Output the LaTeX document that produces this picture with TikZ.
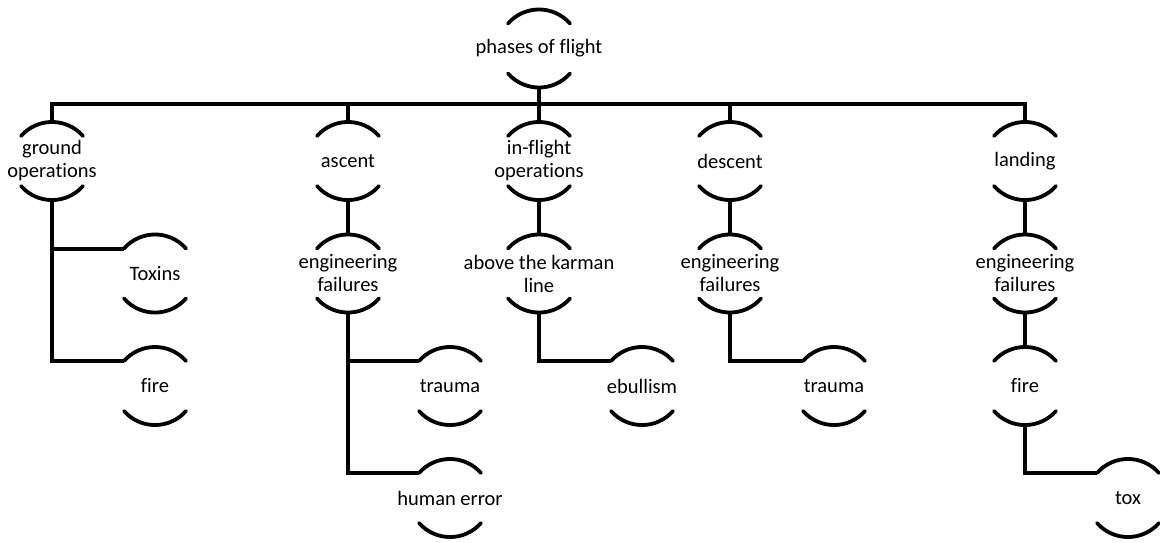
\documentclass[tikz,border=0pt]{standalone}
\usepackage{fontspec}
\setmainfont[Ligatures=NoCommon]{Carlito}
\tikzset{
  lbl/.style={align=center, inner sep=0pt, font=\fontsize{20.5}{23}\selectfont},
  arcline/.style={line width=3.8pt, line cap=round},
  link/.style={line width=4pt, line join=miter},
}
% A label framed by a cap arc above and a cup arc below,
% with named points for the connectors.
\newcommand\capnode[3]{%
  \node[lbl] (#1) at (#2) {#3};
  \coordinate (#1-top) at ([shift={(0,-39)}]#1.center);
  \coordinate (#1-bot) at ([shift={(0,39)}]#1.center);
  \coordinate (#1-tl)  at ([shift={(-31,-25)}]#1.center);
  \coordinate (#1-tr)  at ([shift={(31,-25)}]#1.center);
  \coordinate (#1-bl)  at ([shift={(-31,25)}]#1.center);
  \coordinate (#1-br)  at ([shift={(31,25)}]#1.center);
  \draw[arcline] (#1-tl) .. controls +(16.5,-18.7) and +(-16.5,-18.7) .. (#1-tr);
  \draw[arcline] (#1-bl) .. controls +(16.5,18.7) and +(-16.5,18.7) .. (#1-br);
}
\begin{document}
\begin{tikzpicture}[x=1pt, y=-1pt]
\useasboundingbox (0,0) rectangle (1160,542);

% root and first level
\capnode{root}{539,48.5}{phases of flight}
\capnode{ground}{52,161}{ground\\operations}
\capnode{ascent}{348,161}{ascent}
\capnode{inflight}{539,161}{in-flight\\operations}
\capnode{descent}{730,161}{descent}
\capnode{landing}{1025,161}{landing}

% ground operations branch
\capnode{toxins}{155,273.5}{Toxins}
\capnode{gfire}{155,386}{fire}

% ascent branch
\capnode{aeng}{348,273.5}{engineering\\failures}
\capnode{atrauma}{450,386}{trauma}
\capnode{ahuman}{450,498}{human error}

% in-flight branch
\capnode{karman}{539,273.5}{above the karman\\line}
\capnode{ebullism}{642,386}{ebullism}

% descent branch
\capnode{deng}{730,273.5}{engineering\\failures}
\capnode{dtrauma}{834,386}{trauma}

% landing branch
\capnode{leng}{1025,273.5}{engineering\\failures}
\capnode{lfire}{1025,386}{fire}
\capnode{tox}{1128,498}{tox}

% bus under the root
\coordinate (bus) at (539,104);
\draw[link] (root-bot) -- (bus);
\draw[link] (ground-top) |- (bus) -| (landing-top);
\draw[link] (ascent-top) -- (ascent-top |- bus);
\draw[link] (inflight-top) -- (bus);
\draw[link] (descent-top) -- (descent-top |- bus);

% branch connectors
\draw[link] (ground-bot) |- (gfire-tl);
\draw[link] (ground-bot) |- (toxins-tl);

\draw[link] (ascent-bot) -- (aeng-top);
\draw[link] (aeng-bot) |- (ahuman-tl);
\draw[link] (aeng-bot) |- (atrauma-tl);

\draw[link] (inflight-bot) -- (karman-top);
\draw[link] (karman-bot) |- (ebullism-tl);

\draw[link] (descent-bot) -- (deng-top);
\draw[link] (deng-bot) |- (dtrauma-tl);

\draw[link] (landing-bot) -- (leng-top);
\draw[link] (leng-bot) -- (lfire-top);
\draw[link] (lfire-bot) |- (tox-tl);
\end{tikzpicture}
\end{document}
